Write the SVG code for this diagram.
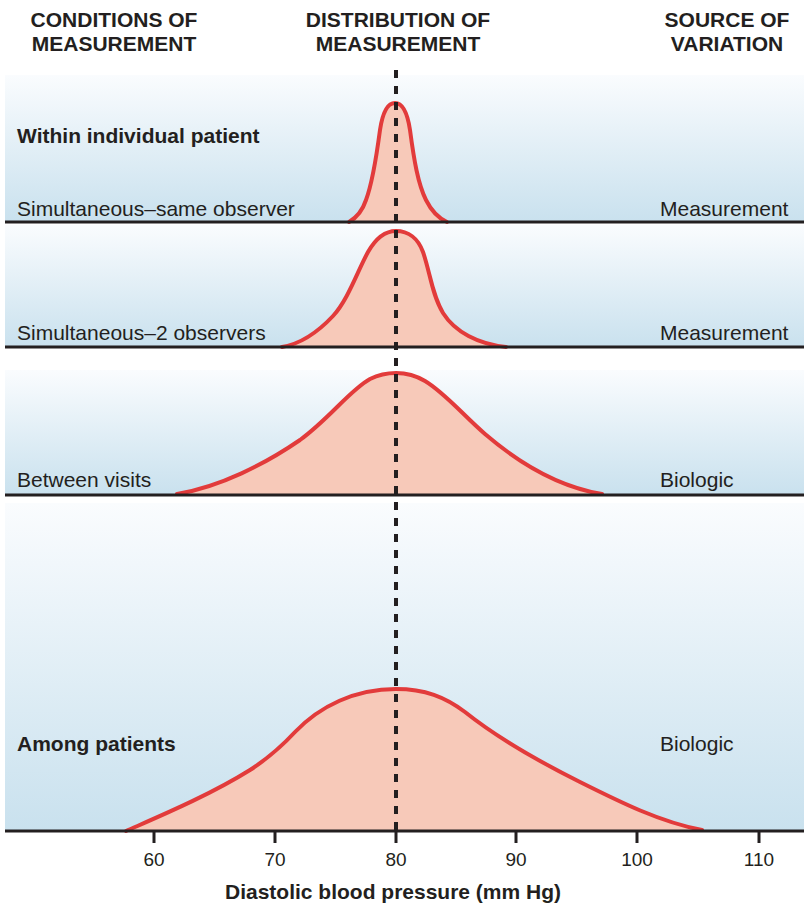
<svg xmlns="http://www.w3.org/2000/svg" width="804" height="906" viewBox="0 0 804 906">
  <defs>
    <linearGradient id="band" x1="0" y1="0" x2="0" y2="1">
      <stop offset="0" stop-color="#fafcfe"/>
      <stop offset="1" stop-color="#c9e1ee"/>
    </linearGradient>
    <style>
      .bg { fill: url(#band); }
      .curve { fill: #f7c9b9; stroke: #e23b3b; stroke-width: 4; stroke-linejoin: round; stroke-linecap: round; }
      .base { stroke: #231f20; stroke-width: 3; fill: none; }
      .tick { stroke: #231f20; stroke-width: 3; }
      .hdr { font-family: "Liberation Sans", Arial, sans-serif; font-weight: bold; font-size: 21px; fill: #231f20; text-anchor: middle; }
      .lbl { font-family: "Liberation Sans", Arial, sans-serif; font-size: 21px; fill: #231f20; }
      .bold { font-weight: bold; }
      .num { font-family: "Liberation Sans", Arial, sans-serif; font-size: 19px; fill: #231f20; text-anchor: middle; }
      .ref { stroke: #231f20; stroke-width: 4; stroke-dasharray: 8 8; fill: none; }
    </style>
  </defs>

  <rect width="804" height="906" fill="#ffffff"/>

  <!-- column headings -->
  <g id="headings">
    <text class="hdr" x="114" y="27">CONDITIONS OF</text>
    <text class="hdr" x="114" y="51">MEASUREMENT</text>
    <text class="hdr" x="398" y="27">DISTRIBUTION OF</text>
    <text class="hdr" x="398" y="51">MEASUREMENT</text>
    <text class="hdr" x="727" y="27">SOURCE OF</text>
    <text class="hdr" x="727" y="51">VARIATION</text>
  </g>

  <!-- band 1: simultaneous, same observer -->
  <g id="band-same-observer">
    <rect class="bg" x="5" y="75" width="799" height="147"/>
    <path class="curve" d="M349,222 C356,218 362,212 366,200 C372,184 376,160 380,130 C383,110 388,103 395,103 C402,103 407,110 410,130 C414,160 418,184 426,200 C432,212 438,218 447,222"/>
    <line class="base" x1="5" y1="222" x2="804" y2="222"/>
    <text class="lbl bold" x="17" y="143">Within individual patient</text>
    <text class="lbl" x="17" y="216">Simultaneous–same observer</text>
    <text class="lbl" x="660" y="216">Measurement</text>
  </g>

  <!-- band 2: simultaneous, two observers -->
  <g id="band-two-observers">
    <rect class="bg" x="5" y="225" width="799" height="122"/>
    <path class="curve" d="M282,347 C300,344 318,332 333,316 C348,300 358,270 368,252 C376,238 385,231 396,231 C408,231 418,238 423,252 C430,272 432,295 443,313 C455,332 478,344 506,347"/>
    <line class="base" x1="5" y1="347" x2="804" y2="347"/>
    <text class="lbl" x="17" y="340">Simultaneous–2 observers</text>
    <text class="lbl" x="660" y="340">Measurement</text>
  </g>

  <!-- band 3: between visits -->
  <g id="band-between-visits">
    <rect class="bg" x="5" y="370" width="799" height="125"/>
    <path class="curve" d="M177,494 C220,487 265,464 300,440 C330,418 350,390 370,379 C380,374 388,373 396,373 C406,373 415,375 425,381 C445,393 463,415 485,434 C520,464 560,487 602,494"/>
    <line class="base" x1="5" y1="495" x2="804" y2="495"/>
    <text class="lbl" x="17" y="487">Between visits</text>
    <text class="lbl" x="660" y="487">Biologic</text>
  </g>

  <!-- band 4: among patients -->
  <g id="band-among-patients">
    <rect class="bg" x="5" y="503" width="799" height="328"/>
    <path class="curve" d="M126,831 C160,816 210,795 250,770 C270,757 282,746 295,732 C320,706 355,689 396,689 C425,689 445,697 465,712 C500,740 540,762 580,782 C620,802 660,822 702,830"/>
    <line class="base" x1="5" y1="831" x2="804" y2="831"/>
    <text class="lbl bold" x="17" y="751">Among patients</text>
    <text class="lbl" x="660" y="751">Biologic</text>
  </g>

  <!-- pressure axis -->
  <g id="axis">
    <line class="tick" x1="154" y1="831" x2="154" y2="843"/>
    <line class="tick" x1="275" y1="831" x2="275" y2="843"/>
    <line class="tick" x1="396" y1="831" x2="396" y2="843"/>
    <line class="tick" x1="516" y1="831" x2="516" y2="843"/>
    <line class="tick" x1="637" y1="831" x2="637" y2="843"/>
    <line class="tick" x1="759" y1="831" x2="759" y2="843"/>
    <text class="num" x="154" y="866">60</text>
    <text class="num" x="275" y="866">70</text>
    <text class="num" x="396" y="866">80</text>
    <text class="num" x="516" y="866">90</text>
    <text class="num" x="637" y="866">100</text>
    <text class="num" x="759" y="866">110</text>
    <text class="hdr" x="393" y="899">Diastolic blood pressure (mm Hg)</text>
  </g>

  <!-- dashed reference line at 80 mm Hg -->
  <g id="connectors">
    <line class="ref" x1="396" y1="70" x2="396" y2="831"/>
  </g>
</svg>
